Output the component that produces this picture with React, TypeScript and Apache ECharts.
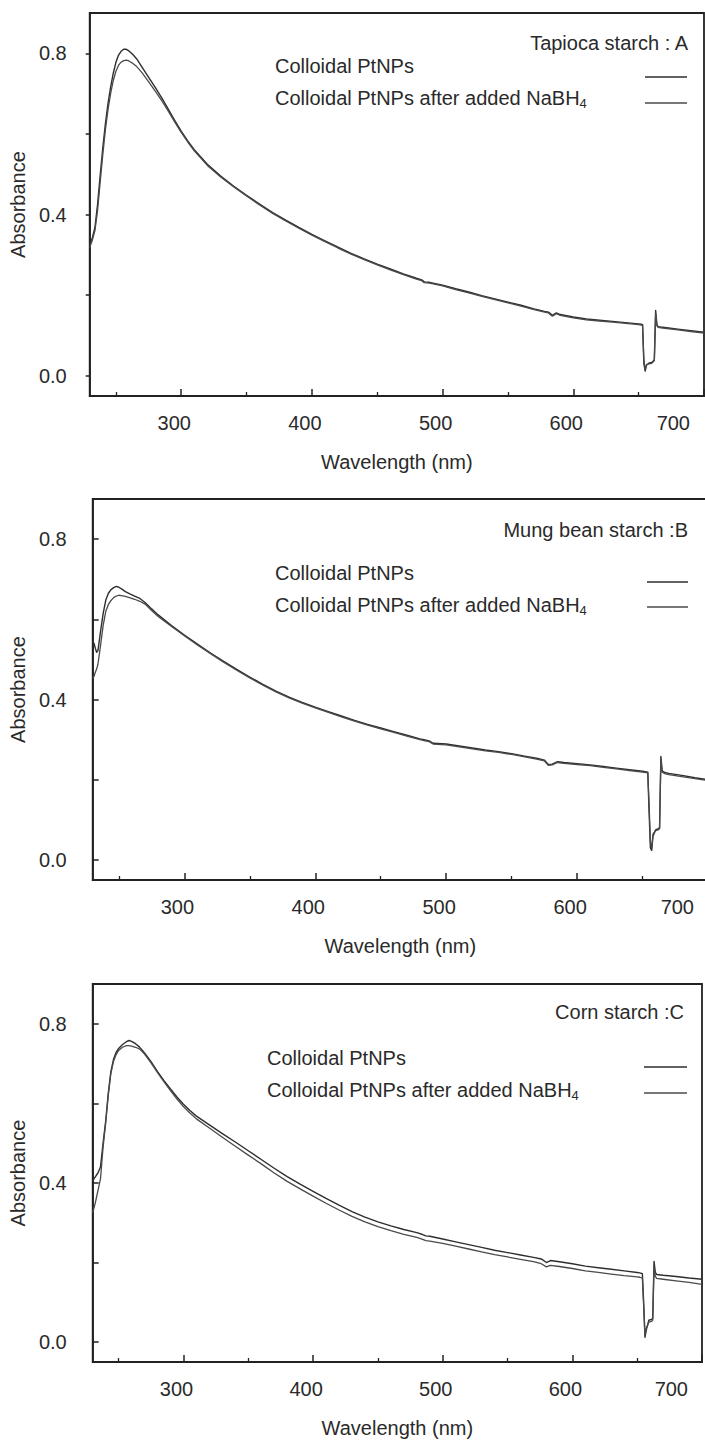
import React, { useEffect, useRef } from "react";
import * as echarts from "echarts";

// ---------- DATA ----------
const xMajorTicks = [300, 400, 500, 600, 700];
const xMinorTicks = [250, 350, 450, 550, 650];
const yTicks = [0, 0.2, 0.4, 0.6, 0.8];
const yLabels = [0, 0.4, 0.8];

const panelTitles = ["Tapioca starch : A", "Mung bean starch :B", "Corn starch :C"];
const seriesNames = ["Colloidal PtNPs", "Colloidal PtNPs after added NaBH4"];

// Panel A – Tapioca starch
const wlA = [230,232,234,236,238,240,242,244,246,248,250,252,254,256,258,260,263,266,270,275,280,285,290,295,300,305,310,320,330,340,350,360,370,380,390,400,410,420,430,440,450,460,470,480,484,486,490,500,510,520,530,540,550,560,570,578,581,584,587,590,600,610,620,630,640,650,652,653,654,655,656,658,660,661,662,663,664,665,667,670,680,690,700];
const tapiocaPt = [0.325,0.342,0.368,0.425,0.497,0.565,0.625,0.675,0.716,0.75,0.777,0.795,0.805,0.81,0.81,0.806,
  0.797,0.786,0.766,0.741,0.716,0.69,0.662,
  0.634,0.607,0.583,0.561,
  0.525,0.496,0.471,0.448,0.426,0.405,0.386,0.368,0.351,0.335,0.319,0.304,0.29,0.277,0.265,0.253,0.242,
  0.238,0.233,0.232,
  0.225,0.216,0.208,0.199,0.191,0.183,0.175,0.166,
  0.16,0.158,0.15,0.156,0.152,
  0.146,0.141,0.138,0.135,0.132,0.129,
  0.128,0.127,0.03,0.012,0.026,0.032,0.033,0.036,0.04,0.162,0.126,0.122,0.121,0.12,
  0.116,0.112,0.108];
const tapiocaNa = [0.318,0.336,0.36,0.41,0.48,0.548,0.61,0.66,0.7,0.732,0.755,0.77,0.778,0.782,0.783,0.781,
  0.775,0.767,0.752,0.73,0.707,0.683,0.657,
  0.63,0.604,0.58,0.558,
  0.522,0.494,0.469,0.446,0.424,0.403,0.384,0.366,0.349,0.333,0.317,0.302,0.288,0.275,0.263,0.251,0.24,
  0.236,0.231,0.23,
  0.223,0.214,0.206,0.197,0.189,0.181,0.173,0.164,
  0.158,0.156,0.148,0.154,0.15,
  0.144,0.139,0.136,0.133,0.13,0.127,
  0.126,0.125,0.04,0.016,0.028,0.03,0.031,0.034,0.038,0.155,0.124,0.12,0.119,0.118,
  0.114,0.11,0.106];

// Panel B – Mung bean starch
const wlB = [230,231,232,233,234,236,238,240,242,244,246,248,250,252,255,258,262,266,270,275,280,290,300,310,320,330,340,350,360,370,380,390,400,410,420,430,440,450,460,470,480,484,487,490,500,510,520,530,540,550,560,570,575,578,581,585,590,600,610,620,630,640,650,654,655,656,657,658,660,662,663,664,665,667,670,680,690,700];
const mungPt = [0.545,0.54,0.528,0.518,0.522,
  0.57,0.615,0.648,0.665,0.674,0.679,0.682,0.68,0.676,
  0.669,0.664,0.658,0.652,0.642,0.626,0.611,
  0.585,0.561,0.538,0.516,0.495,0.475,0.456,0.438,0.421,0.406,0.393,0.381,0.37,0.359,0.348,0.338,0.329,0.32,0.311,0.302,
  0.299,0.297,0.291,
  0.289,0.284,0.279,0.274,0.27,0.265,0.259,0.253,
  0.249,0.238,0.239,0.245,0.243,
  0.24,0.237,0.233,0.229,0.225,0.221,
  0.219,0.12,0.03,0.024,0.06,0.075,0.078,0.08,0.258,0.222,0.218,0.216,
  0.211,0.205,0.2];
const mungNa = [0.452,0.458,0.468,0.476,0.488,
  0.535,0.585,0.62,0.637,0.647,0.654,0.658,0.66,0.659,
  0.657,0.654,0.65,0.645,0.638,0.622,0.607,
  0.583,0.559,0.536,0.514,0.493,0.473,0.454,0.436,0.419,0.404,0.391,0.379,0.368,0.357,0.346,0.336,0.327,0.318,0.309,0.3,
  0.297,0.295,0.289,
  0.287,0.282,0.277,0.272,0.268,0.263,0.257,0.251,
  0.247,0.236,0.237,0.243,0.241,
  0.238,0.235,0.231,0.227,0.223,0.219,
  0.217,0.14,0.045,0.03,0.065,0.073,0.075,0.078,0.25,0.219,0.215,0.213,
  0.208,0.203,0.198];

// Panel C – Corn starch
const wlC = [230,232,234,236,238,240,242,244,246,248,250,253,256,258,260,263,266,270,275,280,285,290,295,300,305,310,320,330,340,350,360,370,380,390,400,410,420,430,440,450,460,470,480,484,487,490,500,510,520,530,540,550,560,570,576,580,583,590,600,610,620,630,640,650,652,654,655,656,657,659,661,662,663,664,665,670,680,690,700];
const cornPt = [0.405,0.415,0.425,0.44,0.5,0.555,0.625,0.68,0.71,0.728,0.738,
  0.748,0.755,0.758,0.756,0.75,0.742,0.727,0.705,0.68,
  0.657,0.636,0.616,0.598,0.582,0.568,
  0.546,0.524,0.503,0.481,0.459,0.437,0.416,0.397,0.379,0.361,0.344,0.328,0.314,0.302,0.292,0.283,0.275,
  0.271,0.267,0.266,
  0.259,0.252,0.245,0.238,0.231,0.225,0.219,0.213,
  0.209,0.2,0.205,0.202,
  0.197,0.191,0.187,0.183,0.179,0.175,
  0.174,0.172,0.1,0.012,0.03,0.055,0.057,0.06,0.203,0.175,0.17,0.168,
  0.165,0.161,0.158];
const cornNa = [0.325,0.35,0.38,0.41,0.49,0.55,0.62,0.675,0.705,0.722,0.733,
  0.741,0.745,0.745,0.744,0.741,0.737,0.724,0.702,0.677,
  0.654,0.632,0.611,0.592,0.576,0.561,
  0.538,0.515,0.492,0.47,0.448,0.425,0.404,0.385,0.367,0.349,0.332,0.316,0.302,0.29,0.28,0.271,0.263,
  0.259,0.255,0.254,
  0.248,0.241,0.234,0.227,0.22,0.214,0.208,0.202,
  0.197,0.189,0.193,0.19,
  0.185,0.179,0.175,0.171,0.167,0.164,
  0.163,0.161,0.09,0.018,0.035,0.05,0.052,0.055,0.19,0.165,0.16,0.158,
  0.154,0.15,0.145];

// ---------- LAYOUT ----------
const FONT = "'Liberation Sans', Arial, Helvetica, sans-serif";
const TXT = "#2a2a2a";
const AX = "#222";

const panels = [
  { wl: wlA, a: tapiocaPt, b: tapiocaNa, grid: { left: 88, top: 13, width: 616, height: 383 }, yTickInside: false, yNameGap: 56,
    title: { x: 688, y: 43 }, legX: 275, legY: [66, 96], sample: { x1: 645, x2: 687, y: [77, 103] } },
  { wl: wlB, a: mungPt, b: mungNa, grid: { left: 92, top: 499, width: 616, height: 381 }, yTickInside: true, yNameGap: 60,
    title: { x: 688, y: 530 }, legX: 275, legY: [573, 603], sample: { x1: 647, x2: 688, y: [582, 607] } },
  { wl: wlC, a: cornPt, b: cornNa, grid: { left: 86, top: 984, width: 616, height: 378 }, yTickInside: true, yNameGap: 53,
    title: { x: 684, y: 1012 }, legX: 267, legY: [1058, 1088], sample: { x1: 644, x2: 687, y: [1067, 1093] } },
];

const zip = (x: number[], y: number[]) => x.map((v, i) => [v, y[i]]);

export default function App() {
  const ref = useRef<HTMLDivElement>(null);

  useEffect(() => {
    if (!ref.current) return;
    const chart = echarts.init(ref.current, undefined, { renderer: "svg" });

    const grids: any[] = [];
    const xAxes: any[] = [];
    const yAxes: any[] = [];
    const series: any[] = [];
    const graphics: any[] = [];

    panels.forEach((p, i) => {
      grids.push({ ...p.grid, show: true, borderColor: AX, borderWidth: 1.8, backgroundColor: "transparent", containLabel: false });
      xAxes.push({
        gridIndex: i, type: "value", min: 230, max: 700, position: "bottom",
        name: "Wavelength (nm)", nameLocation: "middle", nameGap: 56,
        nameTextStyle: { fontSize: 20, color: TXT, fontFamily: FONT },
        axisLine: { onZero: false, lineStyle: { color: AX, width: 1.8 } },
        axisTick: { inside: true, length: 7, lineStyle: { color: AX, width: 1.5 }, customValues: xMajorTicks },
        axisLabel: { customValues: xMajorTicks, fontSize: 20, color: TXT, fontFamily: FONT, margin: 17, padding: [0, 14, 0, 0], alignMaxLabel: "right" },
        splitLine: { show: false },
      });
      xAxes.push({
        gridIndex: i, type: "value", min: 230, max: 700, position: "bottom",
        axisLine: { show: false, onZero: false },
        axisTick: { inside: true, length: 4, lineStyle: { color: AX, width: 1.3 }, customValues: xMinorTicks },
        axisLabel: { show: false },
        splitLine: { show: false },
      });
      yAxes.push({
        gridIndex: i, type: "value", min: -0.05, max: 0.9, position: "left",
        name: "Absorbance", nameLocation: "middle", nameGap: p.yNameGap,
        nameTextStyle: { fontSize: 20, color: TXT, fontFamily: FONT },
        axisLine: { show: true, onZero: false, lineStyle: { color: AX, width: 1.8 } },
        axisTick: { show: true, inside: p.yTickInside, length: p.yTickInside ? 6 : 4, lineStyle: { color: AX, width: 1.5 }, customValues: yTicks },
        axisLabel: { customValues: yLabels, fontSize: 20, color: TXT, fontFamily: FONT, margin: p.yTickInside ? 26 : 23, formatter: (v: number) => v.toFixed(1) },
        splitLine: { show: false },
      });
      series.push({
        name: seriesNames[0], type: "line", xAxisIndex: i * 2, yAxisIndex: i, data: zip(p.wl, p.a),
        showSymbol: false, symbol: "none", lineStyle: { color: "#2e2e2e", width: 1.4, join: "round" },
      });
      series.push({
        name: seriesNames[1], type: "line", xAxisIndex: i * 2, yAxisIndex: i, data: zip(p.wl, p.b),
        showSymbol: false, symbol: "none", lineStyle: { color: "#4a4a4a", width: 1.3, join: "round" },
      });

      graphics.push({
        type: "text", x: p.title.x, y: p.title.y,
        style: { text: panelTitles[i], fontSize: 20, fill: TXT, fontFamily: FONT, align: "right", verticalAlign: "middle" },
      });
      graphics.push({
        type: "text", x: p.legX, y: p.legY[0],
        style: { text: seriesNames[0], fontSize: 20, fill: TXT, fontFamily: FONT, align: "left", verticalAlign: "middle" },
      });
      graphics.push({
        type: "text", x: p.legX, y: p.legY[1] + 2,
        style: {
          text: "Colloidal PtNPs after added NaBH{s|4}", fontSize: 20, fill: TXT, fontFamily: FONT,
          align: "left", verticalAlign: "middle", lineHeight: 24,
          rich: { s: { fontSize: 13, fill: TXT, fontFamily: FONT, verticalAlign: "bottom", lineHeight: 13 } },
        },
      });
      p.sample.y.forEach((yy, k) => {
        graphics.push({
          type: "line", shape: { x1: p.sample.x1, y1: yy, x2: p.sample.x2, y2: yy },
          style: { stroke: k === 0 ? "#2e2e2e" : "#4a4a4a", lineWidth: 1.5 },
        });
      });
    });

    chart.setOption({
      animation: false,
      backgroundColor: "#ffffff",
      grid: grids,
      xAxis: xAxes,
      yAxis: yAxes,
      series,
      graphic: graphics,
    });

    return () => chart.dispose();
  }, []);

  return (
    <div style={{ position: "absolute", left: 0, top: 0, width: 705, height: 1440, overflow: "hidden", background: "#fff" }}>
      <div ref={ref} style={{ width: 720, height: 1440 }} />
    </div>
  );
}
